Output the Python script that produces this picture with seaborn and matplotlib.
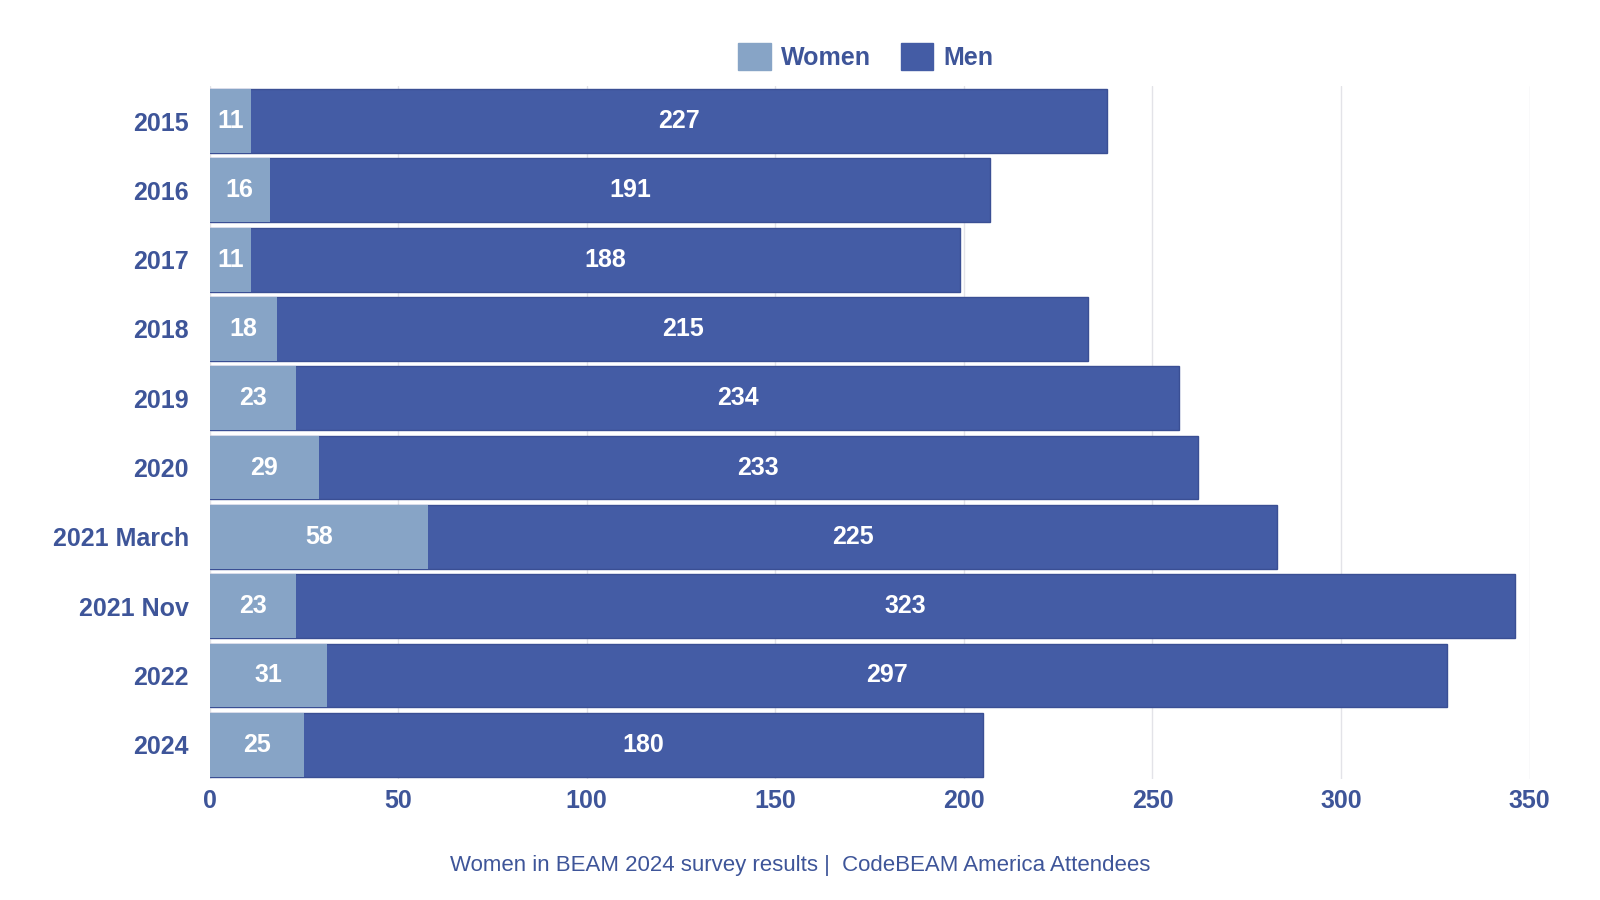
import numpy as np
import pandas as pd
import matplotlib.pyplot as plt
import seaborn as sns

# survey data
years = ['2015', '2016', '2017', '2018', '2019', '2020', '2021 March', '2021 Nov', '2022', '2024']
women = [11, 16, 11, 18, 23, 29, 58, 23, 31, 25]
men = [227, 191, 188, 215, 234, 233, 225, 323, 297, 180]

women_col = '#87a4c6'
men_col = '#445ca5'
text_col = '#3e5599'

df = pd.DataFrame({'Year': years, 'Women': women, 'Men': men})
df['Total'] = df['Women'] + df['Men']

sns.set_style('white')
plt.rcParams['font.family'] = ['Liberation Sans', 'DejaVu Sans']

fig = plt.figure(figsize=(16, 9), dpi=100)
ax = fig.add_axes([0.131, 0.134, 0.825, 0.770])

# total bar first (men colour), women drawn on top of it
sns.barplot(data=df, y='Year', x='Total', color=men_col, orient='h', width=0.92,
            saturation=1, edgecolor='#3a4f94', linewidth=1, ax=ax, zorder=2)
sns.barplot(data=df, y='Year', x='Women', color=women_col, orient='h', width=0.92,
            saturation=1, linewidth=0, ax=ax, zorder=3)

for i, (w, m) in enumerate(zip(women, men)):
    ax.text(w / 2, i, str(w), ha='center', va='center', color='white',
            fontsize=18, fontweight='bold', zorder=4)
    ax.text(w + m / 2, i, str(m), ha='center', va='center', color='white',
            fontsize=18, fontweight='bold', zorder=4)

ax.set_xlim(0, 350)
ax.set_ylim(9.5, -0.5)
ax.set_xticks(np.arange(0, 351, 50))
ax.xaxis.grid(True, color='#e3e3e8', linewidth=1, zorder=0)
ax.set_axisbelow(True)
ax.set_xlabel('')
ax.set_ylabel('')
for s in ax.spines.values():
    s.set_visible(False)
ax.tick_params(axis='both', length=0, labelsize=18, labelcolor=text_col)
ax.tick_params(axis='y', pad=15)
ax.tick_params(axis='x', pad=7)
for lab in ax.get_xticklabels() + ax.get_yticklabels():
    lab.set_fontweight('bold')

handles = [plt.Rectangle((0, 0), 1, 1, color=women_col),
           plt.Rectangle((0, 0), 1, 1, color=men_col)]
leg = fig.legend(handles, ['Women', 'Men'], loc='center', bbox_to_anchor=(0.541, 0.937),
                 ncol=2, frameon=False, fontsize=18, handlelength=1.3, handleheight=1.3,
                 handletextpad=0.4, columnspacing=1.2)
for t in leg.get_texts():
    t.set_color(text_col)
    t.set_fontweight('bold')

fig.text(0.5, 0.038, 'Women in BEAM 2024 survey results |  CodeBEAM America Attendees',
         ha='center', va='center', fontsize=16, color=text_col)

fig.savefig('out.png', dpi=100)
